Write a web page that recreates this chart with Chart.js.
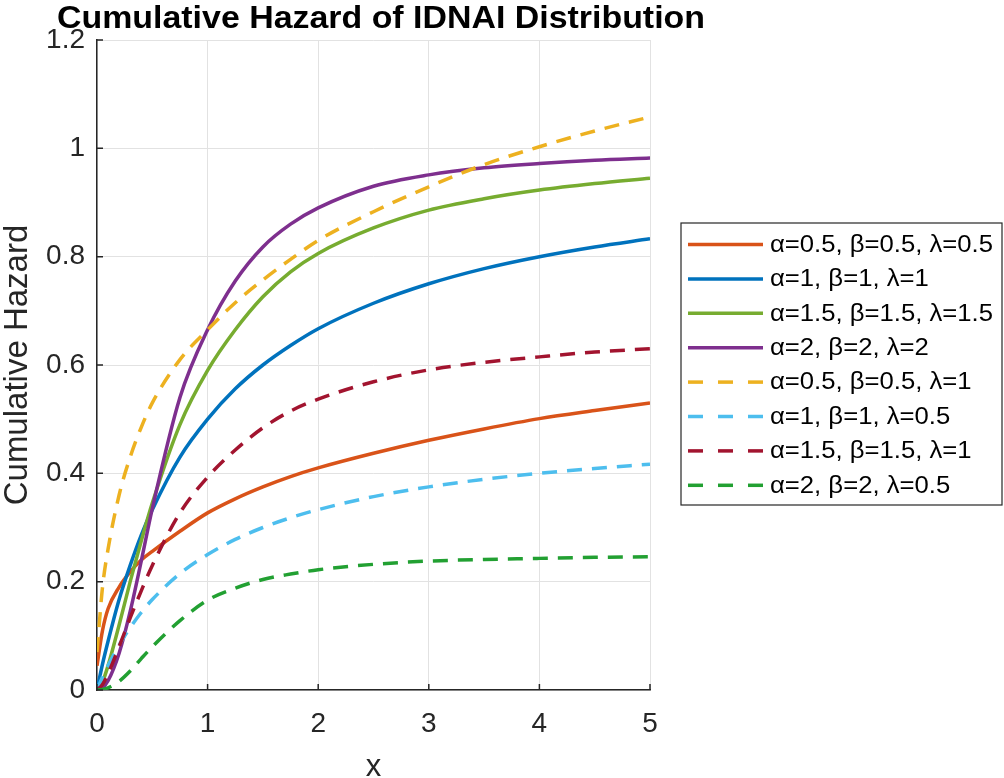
<!DOCTYPE html>
<html>
<head>
<meta charset="utf-8">
<script src="https://cdn.jsdelivr.net/npm/chart.js@4.4.1/dist/chart.umd.min.js"></script>
<style>
  html, body { margin: 0; padding: 0; background: #fff; }
  #wrap { width: 1004px; height: 778px; position: relative; }
</style>
</head>
<body>
<div id="wrap"><canvas id="hazardChart"></canvas></div>
<script>
// valores
const xs = [0, 0.05, 0.1, 0.2, 0.3, 0.4, 0.5, 0.75, 1, 1.25, 1.5, 1.75, 2, 2.5, 3, 3.5, 4, 4.5, 5];

const h1 = [0.045, 0.11, 0.15, 0.19, 0.218, 0.24, 0.256, 0.293, 0.327, 0.353, 0.375, 0.394, 0.41, 0.437, 0.461, 0.482, 0.501, 0.516, 0.53];
const h2 = [0, 0.048, 0.09, 0.167, 0.23, 0.286, 0.333, 0.43, 0.5, 0.556, 0.6, 0.636, 0.667, 0.714, 0.75, 0.778, 0.8, 0.818, 0.833];
const h3 = [0, 0.015, 0.045, 0.12, 0.2, 0.275, 0.345, 0.49, 0.59, 0.665, 0.726, 0.772, 0.806, 0.853, 0.886, 0.907, 0.923, 0.935, 0.945];
const h4 = [0, 0.004, 0.017, 0.068, 0.145, 0.238, 0.335, 0.54, 0.665, 0.755, 0.818, 0.86, 0.89, 0.93, 0.951, 0.964, 0.972, 0.978, 0.982];
const h5 = [0.07, 0.19, 0.26, 0.36, 0.43, 0.485, 0.53, 0.61, 0.665, 0.715, 0.757, 0.795, 0.83, 0.883, 0.929, 0.97, 1.003, 1.032, 1.058];
const h6 = [0, 0.024, 0.045, 0.083, 0.115, 0.143, 0.167, 0.215, 0.25, 0.278, 0.3, 0.318, 0.333, 0.357, 0.375, 0.389, 0.4, 0.409, 0.417];
const h7 = [0, 0.01, 0.03, 0.08, 0.133, 0.183, 0.23, 0.327, 0.393, 0.443, 0.484, 0.515, 0.537, 0.569, 0.591, 0.605, 0.615, 0.624, 0.63];
const h8 = [0, 0.001, 0.004, 0.016, 0.035, 0.058, 0.08, 0.128, 0.166, 0.188, 0.204, 0.214, 0.222, 0.232, 0.238, 0.241, 0.243, 0.245, 0.246];

const seriesLabels = [
    'α=0.5, β=0.5, λ=0.5',
    'α=1, β=1, λ=1',
    'α=1.5, β=1.5, λ=1.5',
    'α=2, β=2, λ=2',
    'α=0.5, β=0.5, λ=1',
    'α=1, β=1, λ=0.5',
    'α=1.5, β=1.5, λ=1',
    'α=2, β=2, λ=0.5'
];
const xTicks = [0, 1, 2, 3, 4, 5];
const yTicks = [0, 0.2, 0.4, 0.6, 0.8, 1, 1.2];

const chartTitle = 'Cumulative Hazard of IDNAI Distribution';
const xTitle = 'x';
const yTitle = 'Cumulative Hazard';

document.addEventListener('DOMContentLoaded', () => {
    const colors = ['#D95319', '#0072BD', '#77AC30', '#7E2F8E', '#EDB120', '#4DBEEE', '#A2142F', '#22A032'];
    const dashed = [false, false, false, false, true, true, true, true];
    const allSeries = [h1, h2, h3, h4, h5, h6, h7, h8];
    const axisColor = '#262626';
    const fontFamily = '"Liberation Sans", Arial, sans-serif';

    const datasets = allSeries.map((ys, i) => ({
        label: seriesLabels[i],
        data: xs.map((x, k) => ({ x: x, y: ys[k] })),
        borderColor: colors[i],
        backgroundColor: colors[i],
        borderWidth: 3.5,
        borderDash: dashed[i] ? [15, 10] : [],
        pointRadius: 0,
        cubicInterpolationMode: 'monotone',
        fill: false,
        order: allSeries.length - 1 - i // la última serie queda encima, como en MATLAB
    }));

    // título, marcas hacia dentro y leyenda con recuadro
    const decorPlugin = {
        id: 'decor',
        afterDatasetsDraw(chart) {
            const { ctx, chartArea, scales } = chart;
            ctx.save();
            ctx.strokeStyle = axisColor;
            ctx.lineWidth = 1.5;
            ctx.beginPath();
            xTicks.forEach(v => {
                const px = scales.x.getPixelForValue(v);
                ctx.moveTo(px, chartArea.bottom);
                ctx.lineTo(px, chartArea.bottom - 6);
            });
            yTicks.forEach(v => {
                const py = scales.y.getPixelForValue(v);
                ctx.moveTo(chartArea.left, py);
                ctx.lineTo(chartArea.left + 6, py);
            });
            ctx.stroke();
            ctx.restore();
        },
        afterDraw(chart) {
            const { ctx } = chart;

            // título
            ctx.save();
            ctx.font = 'bold 31px ' + fontFamily;
            ctx.fillStyle = '#000';
            ctx.textBaseline = 'alphabetic';
            ctx.textAlign = 'center';
            const tw = ctx.measureText(chartTitle).width;
            const sx = 648 / tw;
            ctx.translate(381, 28);
            ctx.scale(sx, 1);
            ctx.fillText(chartTitle, 0, 0);
            ctx.restore();

            // leyenda
            const box = { left: 681, top: 223, right: 1002, bottom: 505 };
            ctx.save();
            ctx.fillStyle = '#fff';
            ctx.fillRect(box.left, box.top, box.right - box.left, box.bottom - box.top);
            ctx.strokeStyle = axisColor;
            ctx.lineWidth = 1.2;
            ctx.strokeRect(box.left, box.top, box.right - box.left, box.bottom - box.top);

            ctx.font = '23px ' + fontFamily;
            const widest = Math.max(...seriesLabels.map(s => ctx.measureText(s).width));
            const lx = 223 / widest;
            seriesLabels.forEach((lab, i) => {
                const cy = 244.5 + i * 34.4;
                ctx.beginPath();
                ctx.strokeStyle = colors[i];
                ctx.lineWidth = 3.5;
                ctx.setLineDash(dashed[i] ? [15, 15] : []);
                ctx.moveTo(688, cy);
                ctx.lineTo(763, cy);
                ctx.stroke();
                ctx.setLineDash([]);

                ctx.save();
                ctx.fillStyle = '#000';
                ctx.textBaseline = 'middle';
                ctx.textAlign = 'left';
                ctx.translate(770, cy + 1);
                ctx.scale(lx, 1);
                ctx.fillText(lab, 0, 0);
                ctx.restore();
            });
            ctx.restore();
        }
    };

    const ctx = document.getElementById('hazardChart').getContext('2d');
    new Chart(ctx, {
        type: 'line',
        data: { datasets: datasets },
        options: {
            responsive: true,
            maintainAspectRatio: false,
            animation: false,
            layout: {
                padding: { left: 0, top: 40, right: 354, bottom: 0 }
            },
            plugins: {
                legend: { display: false },
                title: { display: false },
                tooltip: { enabled: false }
            },
            scales: {
                x: {
                    type: 'linear',
                    min: 0,
                    max: 5,
                    afterFit: scale => { scale.height = 88; },
                    afterBuildTicks: scale => { scale.ticks = xTicks.map(v => ({ value: v })); },
                    grid: { color: '#e2e2e2', lineWidth: 1, drawTicks: false },
                    border: { color: axisColor, width: 1.5 },
                    ticks: {
                        color: axisColor,
                        padding: 17,
                        maxRotation: 0,
                        font: { family: fontFamily, size: 28 }
                    },
                    title: {
                        display: true,
                        text: xTitle,
                        color: axisColor,
                        font: { family: fontFamily, size: 31 },
                        padding: { top: 0, bottom: -8 }
                    }
                },
                y: {
                    min: 0,
                    max: 1.2,
                    afterFit: scale => { scale.width = 97; },
                    afterBuildTicks: scale => { scale.ticks = yTicks.map(v => ({ value: v })); },
                    grid: { color: '#e2e2e2', lineWidth: 1, drawTicks: false },
                    border: { color: axisColor, width: 1.5 },
                    ticks: {
                        color: axisColor,
                        padding: 12,
                        font: { family: fontFamily, size: 28 },
                        callback: v => String(Math.round(v * 10) / 10)
                    },
                    title: {
                        display: true,
                        text: yTitle,
                        color: axisColor,
                        font: { family: fontFamily, size: 33 },
                        padding: { top: -2, bottom: 0 }
                    }
                }
            }
        },
        plugins: [decorPlugin]
    });
});
</script>
</body>
</html>
